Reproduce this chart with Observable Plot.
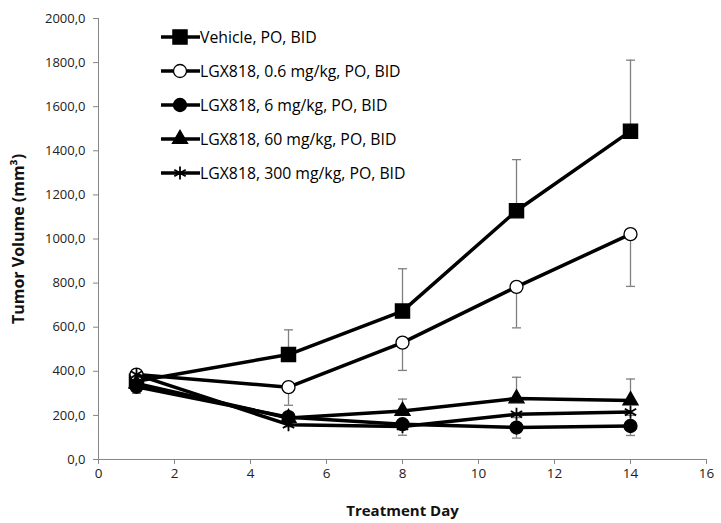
<!DOCTYPE html>
<html>
<head>
<meta charset="utf-8">
<script src="https://cdn.jsdelivr.net/npm/d3@7"></script>
<script src="https://cdn.jsdelivr.net/npm/@observablehq/plot@0.6"></script>
<style>
  html, body { margin: 0; padding: 0; background: #fff; }
  #wrap { position: relative; width: 721px; height: 523px; font-family: "Open Sans", sans-serif; }
  #legend { position: absolute; left: 160px; top: 20px; }
  .row { display: flex; align-items: center; height: 34px; font-size: 15.8px; color: #000; }
  .row svg { display: block; }
  .row span { margin-left: 0px; white-space: nowrap; }
</style>
</head>
<body>
<div id="wrap"><div id="chart"></div><div id="legend"></div></div>
<script>
// ---- data ----
const days = [1, 5, 8, 11, 14];
const seriesNames = [
  "Vehicle, PO, BID",
  "LGX818, 0.6 mg/kg, PO, BID",
  "LGX818, 6 mg/kg, PO, BID",
  "LGX818, 60 mg/kg, PO, BID",
  "LGX818, 300 mg/kg, PO, BID"
];
const vehicle = [355, 476, 673, 1128, 1489];
const lgx06   = [385, 328, 530, 783, 1022];
const lgx6    = [330, 192, 160, 145, 152];
const lgx60   = [345, 188, 220, 277, 268];
const lgx300  = [385, 158, 150, 205, 215];
// error bar lengths (one-sided, as drawn)
const vehicleErr = [25, 112, 192, 232, 322];
const lgx06Err   = [20, 82, 126, 186, 237];
const lgx6Err    = [30, 20, 50, 48, 43];
const lgx60Err   = [20, 25, 54, 96, 97];
const lgx300Err  = [15, 10, 15, 15, 15];
const errDir = [1, -1, -1, 1, -1];
const symbols = ["square", "circle", "circle", "triangle", "asterisk"];
const fills = ["black", "white", "black", "black", "none"];
const xTicks = [0, 2, 4, 6, 8, 10, 12, 14, 16];
const yTicks = [0, 200, 400, 600, 800, 1000, 1200, 1400, 1600, 1800, 2000];

const values = [vehicle, lgx06, lgx6, lgx60, lgx300];
const errs = [vehicleErr, lgx06Err, lgx6Err, lgx60Err, lgx300Err];

const rows = [];
const errRows = [];
values.forEach((vals, s) => {
  vals.forEach((v, i) => {
    rows.push({series: seriesNames[s], s, day: days[i], v});
    errRows.push({series: seriesNames[s], s, day: days[i], y1: v, y2: v + errDir[s] * errs[s][i]});
  });
});

const capSymbol = { draw(ctx, size) { ctx.moveTo(-4.5, 0); ctx.lineTo(4.5, 0); } };
const fmt = d => d3.format(".1f")(d).replace(".", ",");
const rSize = {square: 8, circle: 6.5, triangle: 5.6, asterisk: 6.2};

const marks = [
  Plot.ruleX(errRows, {x: "day", y1: "y1", y2: "y2", stroke: "#7f7f7f", strokeWidth: 1.3}),
  Plot.dot(errRows, {x: "day", y: "y2", symbol: () => capSymbol, stroke: "#7f7f7f", strokeWidth: 1.3, r: 4}),
  Plot.axisY({ticks: yTicks, tickSize: 5, stroke: "#868686", text: null, label: null}),
  Plot.axisY({ticks: yTicks, tickSize: 0, tickPadding: 13, tickFormat: fmt, fontSize: 13, fill: "#222", label: null}),
  Plot.axisX({ticks: xTicks, tickSize: 5, stroke: "#868686", text: null, label: null}),
  Plot.axisX({ticks: xTicks, tickSize: 0, tickPadding: 9, fontSize: 13.5, fill: "#222", label: null}),
  Plot.ruleY([0], {stroke: "#868686", strokeWidth: 1}),
  Plot.ruleX([0], {stroke: "#868686", strokeWidth: 1}),
  Plot.text(["Tumor Volume (mm³)"], {frameAnchor: "left", textAnchor: "middle", lineAnchor: "middle", rotate: -90, dx: -80, fontSize: 16, fontWeight: "bold", fill: "#111"}),
  Plot.text(["Treatment Day"], {frameAnchor: "bottom", textAnchor: "middle", lineAnchor: "middle", dy: 52, fontSize: 15, fontWeight: "bold", fill: "#111"})
];
seriesNames.forEach((name, s) => {
  const data = rows.filter(d => d.s === s);
  marks.push(Plot.line(data, {x: "day", y: "v", stroke: "black", strokeWidth: 3.5}));
  marks.push(Plot.dot(data, {x: "day", y: "v", symbol: symbols[s], r: rSize[symbols[s]],
    fill: fills[s], stroke: "black", strokeWidth: symbols[s] === "asterisk" ? 1.8 : 1.3}));
});

const chart = Plot.plot({
  width: 721, height: 523,
  marginLeft: 98, marginRight: 15, marginTop: 18, marginBottom: 64,
  style: {fontFamily: "'Open Sans', sans-serif", background: "white"},
  x: {domain: [0, 16]},
  y: {domain: [0, 2000]},
  marks
});
document.getElementById("chart").appendChild(chart);

// ---- legend ----
const legend = d3.select("#legend");
seriesNames.forEach((name, s) => {
  const row = legend.append("div").attr("class", "row");
  const svg = row.append("svg").attr("width", 40).attr("height", 20);
  svg.append("line").attr("x1", 1).attr("x2", 40).attr("y1", 10).attr("y2", 10)
    .attr("stroke", "black").attr("stroke-width", 3.5);
  const sym = {square: d3.symbolSquare, circle: d3.symbolCircle, triangle: d3.symbolTriangle, asterisk: d3.symbolAsterisk}[symbols[s]];
  const r = rSize[symbols[s]];
  svg.append("path").attr("transform", "translate(20,10)")
    .attr("d", d3.symbol(sym, Math.PI * r * r)())
    .attr("fill", fills[s]).attr("stroke", "black")
    .attr("stroke-width", symbols[s] === "asterisk" ? 1.8 : 1.3);
  row.append("span").text(name);
});
</script>
</body>
</html>
